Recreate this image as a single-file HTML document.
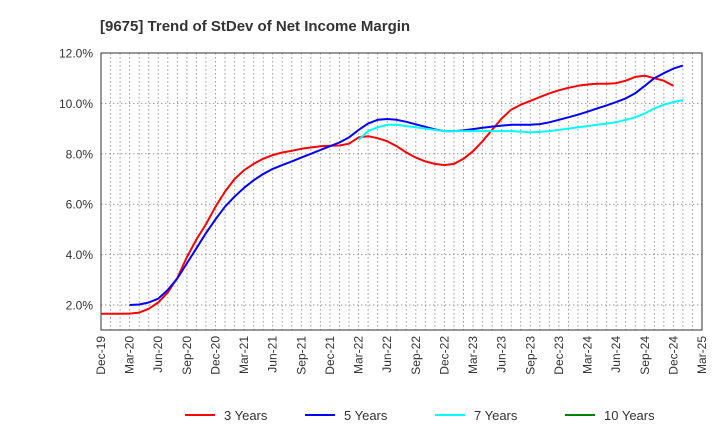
<!DOCTYPE html>
<html><head><meta charset="utf-8"><style>
body{margin:0;background:#fff;font-family:"Liberation Sans",sans-serif}
</style></head><body>
<svg id="chart" width="720" height="440" xmlns="http://www.w3.org/2000/svg" font-family="Liberation Sans, sans-serif">
<text x="100" y="31" font-size="15" font-weight="bold" fill="#333">[9675]  Trend of StDev of Net Income Margin</text>
<g id="grid"></g><g id="axes"></g><g id="series"></g><g id="legend"></g>
</svg>
<script>
const xTickLabels=["Dec-19","Mar-20","Jun-20","Sep-20","Dec-20","Mar-21","Jun-21","Sep-21","Dec-21","Mar-22","Jun-22","Sep-22","Dec-22","Mar-23","Jun-23","Sep-23","Dec-23","Mar-24","Jun-24","Sep-24","Dec-24","Mar-25"];
const yTicks=[2,4,6,8,10,12];
const seriesNames=["3 Years","5 Years","7 Years","10 Years"];
const seriesColors=["#ff0000","#0000ff","#00ffff","#008000"];
const start3=0;
const values3=[1.65,1.65,1.65,1.66,1.7,1.85,2.1,2.5,3.07,3.9,4.6,5.2,5.9,6.5,7.0,7.35,7.6,7.8,7.95,8.05,8.12,8.2,8.25,8.3,8.32,8.33,8.4,8.65,8.7,8.62,8.5,8.3,8.05,7.85,7.7,7.6,7.55,7.6,7.8,8.1,8.5,8.95,9.4,9.75,9.95,10.1,10.25,10.4,10.52,10.62,10.7,10.75,10.78,10.78,10.8,10.9,11.05,11.1,11.0,10.9,10.7];
const start5=3;
const values5=[2.0,2.02,2.1,2.25,2.6,3.05,3.65,4.25,4.85,5.4,5.9,6.3,6.65,6.95,7.2,7.4,7.55,7.7,7.85,8.0,8.15,8.3,8.45,8.65,8.95,9.2,9.35,9.38,9.35,9.27,9.17,9.07,8.97,8.9,8.9,8.93,8.98,9.03,9.08,9.12,9.15,9.15,9.15,9.18,9.25,9.35,9.45,9.55,9.67,9.8,9.92,10.05,10.2,10.4,10.7,11.0,11.2,11.38,11.5];
const start7=27;
const values7=[8.55,8.9,9.05,9.15,9.15,9.1,9.05,9.0,8.95,8.9,8.9,8.9,8.9,8.9,8.9,8.9,8.9,8.88,8.85,8.87,8.9,8.95,9.0,9.05,9.1,9.15,9.2,9.25,9.35,9.45,9.6,9.8,9.95,10.05,10.13];
const start10=0;
const values10=[];
const X0=101,X1=702,Y0=53,Y1=330,NM=63;
const xs=i=>X0+i*(X1-X0)/NM;
const ys=v=>305-(v-2)*(305-53)/10;
const NS="http://www.w3.org/2000/svg";
function mk(tag,attrs,parent){const e=document.createElementNS(NS,tag);for(const k in attrs)e.setAttribute(k,attrs[k]);document.getElementById(parent).appendChild(e);return e;}
// grid
for(let i=1;i<NM;i++){const l=mk('line',{x1:xs(i),x2:xs(i),y1:Y0,y2:Y1,stroke:'#999','stroke-dasharray':'1.5,2.5','stroke-width':1},'grid');

}
yTicks.forEach(v=>{const l=mk('line',{x1:X0,x2:X1,y1:ys(v),y2:ys(v),stroke:'#999','stroke-dasharray':'1.5,2.5','stroke-width':1},'grid');


const t=mk('text',{x:93,y:ys(v)+4.5,'text-anchor':'end','font-size':12,fill:'#333'},'axes');t.textContent=v.toFixed(1)+'%';

});
const box=mk('rect',{x:X0,y:Y0,width:X1-X0,height:Y1-Y0,fill:'none',stroke:'#333','stroke-width':1},'axes');


xTickLabels.forEach((s,k)=>{const x=xs(k*3);const t=mk('text',{x:0,y:0,transform:`translate(${x+4},${Y1+6}) rotate(-90)`,'text-anchor':'end','font-size':12,fill:'#333'},'axes');t.textContent=s;

});
// series
[[values3,start3],[values5,start5],[values7,start7],[values10,start10]].forEach(([vals,st],si)=>{
if(!vals.length)return;
const p=mk('polyline',{points:vals.map((v,i)=>xs(st+i).toFixed(1)+','+ys(v).toFixed(1)).join(' '),fill:'none',stroke:seriesColors[si],'stroke-width':2,'stroke-linejoin':'round'},'series');

});
// legend
const lx=[185,305,435,565];
seriesNames.forEach((n,i)=>{const l=mk('line',{x1:lx[i],x2:lx[i]+30,y1:415,y2:415,stroke:seriesColors[i],'stroke-width':2},'legend');


const t=mk('text',{x:lx[i]+39,y:420,'font-size':13,fill:'#333'},'legend');t.textContent=n;

});
</script>
</body></html>
